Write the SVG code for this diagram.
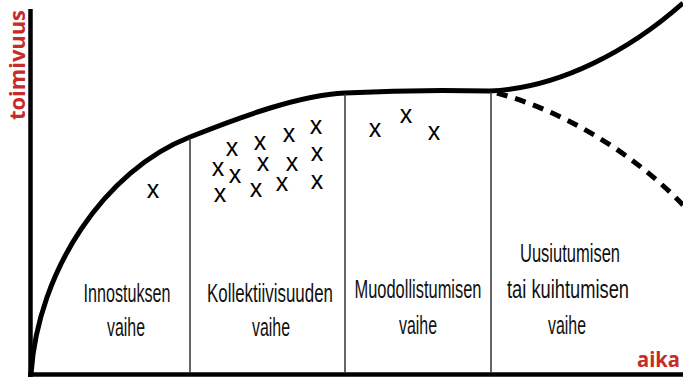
<svg xmlns="http://www.w3.org/2000/svg" width="683" height="377" viewBox="0 0 683 377">
<style>
.axis{stroke:#000;stroke-width:4.5;fill:none}
.curve{stroke:#000;stroke-width:5;fill:none;stroke-linecap:butt}
.dash{stroke:#000;stroke-width:5;fill:none;stroke-dasharray:11 8}
.div{stroke:#333;stroke-width:1.5}
.lbl{font-family:"Liberation Sans",Arial,sans-serif;font-size:26px;fill:#111;text-anchor:middle}
.ax{font-family:"Open Sans","Liberation Sans",sans-serif;font-weight:bold;fill:#c62b28}
.x{font-family:"Liberation Sans",Arial,sans-serif;font-size:25px;fill:#000;text-anchor:middle}
</style>
<rect width="683" height="377" fill="#fff"/>
<g id="axes">
<line class="axis" x1="30.5" y1="9" x2="30.5" y2="377"/>
<line class="axis" x1="28" y1="374.5" x2="683" y2="374.5"/>
<text class="ax" font-size="21" transform="translate(25,120) rotate(-90)" textLength="110" lengthAdjust="spacingAndGlyphs">toimivuus</text>
<text class="ax" font-size="21" x="637" y="367" textLength="43" lengthAdjust="spacingAndGlyphs">aika</text>
</g>
<g id="connectors">
<path class="curve" d="M31,374 C38,270 105,170 190,137 C240,117 300,95 345,93 C400,90 450,90 490,91 C560,88 630,50 683,3"/>
<path class="dash" d="M497,93 C560,110 630,150 683,205"/>
<line class="div" x1="190" y1="138" x2="190" y2="373"/>
<line class="div" x1="345" y1="94" x2="345" y2="373"/>
<line class="div" x1="491" y1="92" x2="491" y2="373"/>
</g>
<g id="phase1">
<text class="lbl" x="127" y="302" textLength="87" lengthAdjust="spacingAndGlyphs">Innostuksen</text>
<text class="lbl" x="126" y="336" textLength="38" lengthAdjust="spacingAndGlyphs">vaihe</text>
<text class="x" x="153" y="198">x</text>
</g>
<g id="phase2">
<text class="lbl" x="270" y="302" textLength="126" lengthAdjust="spacingAndGlyphs">Kollektiivisuuden</text>
<text class="lbl" x="271" y="336" textLength="38" lengthAdjust="spacingAndGlyphs">vaihe</text>
<text class="x" x="232" y="156">x</text>
<text class="x" x="260" y="150">x</text>
<text class="x" x="289" y="142">x</text>
<text class="x" x="316" y="134">x</text>
<text class="x" x="218" y="176">x</text>
<text class="x" x="235" y="183">x</text>
<text class="x" x="263" y="171">x</text>
<text class="x" x="292" y="171">x</text>
<text class="x" x="317" y="161">x</text>
<text class="x" x="220" y="202">x</text>
<text class="x" x="256" y="197">x</text>
<text class="x" x="282" y="191">x</text>
<text class="x" x="317" y="189">x</text>
</g>
<g id="phase3">
<text class="lbl" x="418" y="298" textLength="127" lengthAdjust="spacingAndGlyphs">Muodollistumisen</text>
<text class="lbl" x="418" y="334" textLength="38" lengthAdjust="spacingAndGlyphs">vaihe</text>
<text class="x" x="375" y="137">x</text>
<text class="x" x="406" y="123">x</text>
<text class="x" x="434" y="140">x</text>
</g>
<g id="phase4">
<text class="lbl" x="570" y="262" textLength="100" lengthAdjust="spacingAndGlyphs">Uusiutumisen</text>
<text class="lbl" x="568" y="298" textLength="122" lengthAdjust="spacingAndGlyphs">tai  kuihtumisen</text>
<text class="lbl" x="567" y="334" textLength="38" lengthAdjust="spacingAndGlyphs">vaihe</text>
</g>
</svg>
